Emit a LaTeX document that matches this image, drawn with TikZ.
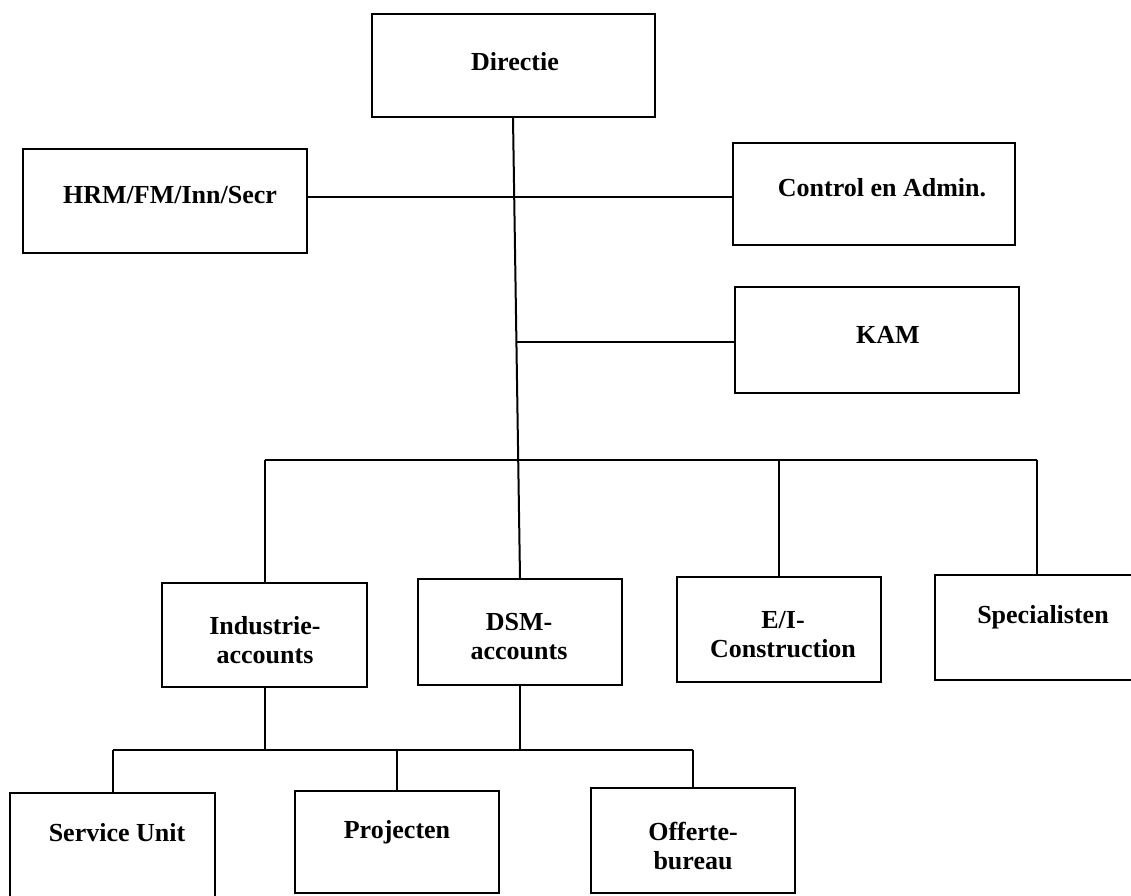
\documentclass[tikz,border=0pt]{standalone}
\usepackage{fontspec}
\setmainfont{Liberation Serif}
\begin{document}
\begin{tikzpicture}[x=1pt,y=-1pt,
  unit/.style={draw, line width=2pt, inner sep=0pt},
  unitlabel/.style={font=\bfseries\fontsize{26}{29}\selectfont, align=center, inner sep=0pt},
  link/.style={line width=2pt}]
\useasboundingbox (0,0) rectangle (1131,895);
\clip (0,0) rectangle (1131,895);

% top level boxes
\node[unit, minimum width=283pt, minimum height=103pt] (dir)  at (513,65.5) {};
\node[unit, minimum width=284pt, minimum height=104pt] (hrm)  at (165,201) {};
\node[unit, minimum width=282pt, minimum height=102pt] (ctl)  at (874,194) {};
\node[unit, minimum width=284pt, minimum height=106pt] (kam)  at (877,340) {};

% accounts and departments
\node[unit, minimum width=205pt, minimum height=104pt] (ind)  at (264.5,635) {};
\node[unit, minimum width=204pt, minimum height=106pt] (dsm)  at (520,632) {};
\node[unit, minimum width=204pt, minimum height=105pt] (ei)   at (779,629.5) {};
\node[unit, minimum width=204pt, minimum height=105pt] (spec) at (1037,627.5) {};

% bottom row
\node[unit, minimum width=205pt, minimum height=106pt] (su)   at (112.5,846) {};
\node[unit, minimum width=204pt, minimum height=102pt] (proj) at (397,842) {};
\node[unit, minimum width=204pt, minimum height=105pt] (off)  at (693,840.5) {};

% labels
\node[unitlabel] (dirT)  at (515,62)  {Directie};
\node[unitlabel] (hrmT)  at (170,195) {HRM/FM/Inn/Secr};
\node[unitlabel] (ctlT)  at (882,188) {Control en Admin.};
\node[unitlabel] (kamT)  at (888,335) {KAM};
\node[unitlabel] (indT)  at (265,640) {Industrie-\\accounts};
\node[unitlabel] (dsmT)  at (519,637) {DSM-\\accounts};
\node[unitlabel] (eiT)   at (783,635) {E/I-\\Construction};
\node[unitlabel] (specT) at (1043,617) {Specialisten};
\node[unitlabel] (suT)   at (117,833) {Service Unit};
\node[unitlabel] (projT) at (397,832) {Projecten};
\node[unitlabel] (offT)  at (693,846) {Offerte-\\bureau};

% junction points
\coordinate (j1) at (515,197);
\coordinate (j2) at (516,342);
\coordinate (j3) at (518,460);
\coordinate (j4) at (518,750);

% main trunk and staff lines
\draw[link] (dir.south) -- (dsm.north);
\draw[link] (hrm.east |- j1) -- (ctl.west |- j1);
\draw[link] (j2) -- (kam.west |- j2);

% branch to departments
\draw[link] (ind.north |- j3) -- (spec.north |- j3);
\draw[link] (ind.north |- j3) -- (ind.north);
\draw[link] (ei.north |- j3) -- (ei.north);
\draw[link] (spec.north |- j3) -- (spec.north);

% branch to bottom row
\draw[link] (ind.south) -- (ind.south |- j4);
\draw[link] (dsm.south) -- (dsm.south |- j4);
\draw[link] (su.north |- j4) -- (off.north |- j4);
\draw[link] (su.north |- j4) -- (su.north);
\draw[link] (proj.north |- j4) -- (proj.north);
\draw[link] (off.north |- j4) -- (off.north);
\end{tikzpicture}
\end{document}
